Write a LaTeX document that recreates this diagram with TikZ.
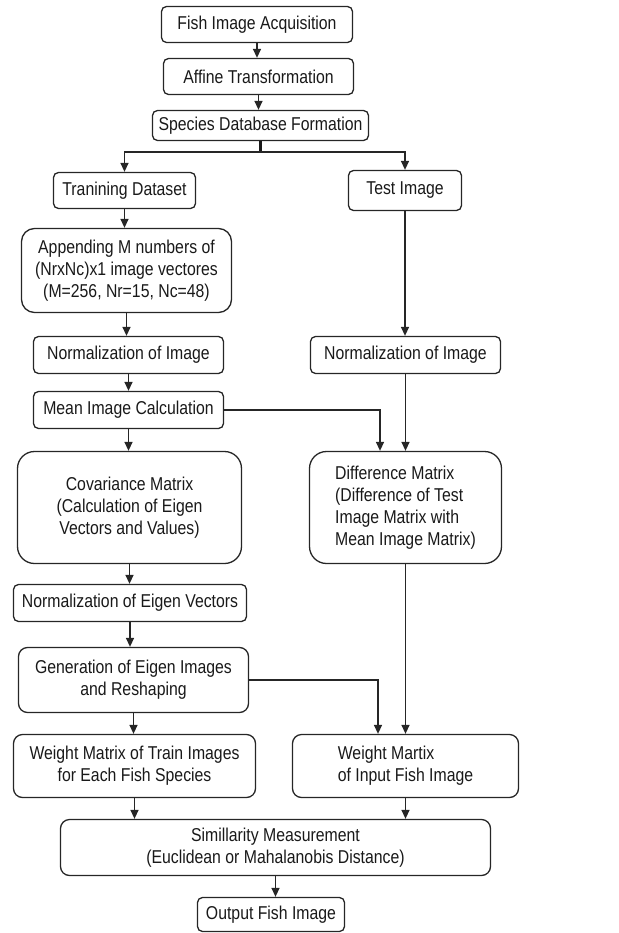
\documentclass[tikz,border=0pt]{standalone}
\usepackage{fontspec}
\setmainfont{Liberation Sans}[FakeStretch=0.85]
\usepackage{tikz}
\usetikzlibrary{arrows.meta}

\begin{document}
\begin{tikzpicture}[x=1pt, y=-1pt,
    stage/.style={rectangle, rounded corners=5pt, draw=black!85, line width=1.3pt,
        inner sep=0pt, align=center, text=black!90,
        font=\fontsize{18.6}{22}\selectfont},
    arr/.style={-{Triangle[length=9pt, width=8pt]}, line width=1.4pt, black!85},
    fork/.style={line width=2.6pt, black!90},
]
\useasboundingbox (0,0) rectangle (618,933);

% Acquisition chain
\node[stage, minimum width=191pt, minimum height=36pt] (fia) at (257,24.5) {Fish Image Acquisition};
\node[stage, minimum width=190pt, minimum height=36pt] (aft) at (258.5,76.5) {Affine Transformation};
\node[stage, minimum width=216pt, minimum height=30pt] (sdf) at (260.5,125.5) {Species Database Formation};

% Training branch
\node[stage, minimum width=142pt, minimum height=36pt] (trn) at (124.5,190.5) {Tranining Dataset};
\node[stage, rounded corners=13pt, minimum width=210pt, minimum height=84pt] (app) at (126.5,270.5)
    {Appending M numbers of\\(NrxNc)x1 image vectores\\(M=256, Nr=15, Nc=48)};
\node[stage, minimum width=190pt, minimum height=37pt] (nrl) at (128.5,355) {Normalization of Image};
\node[stage, minimum width=190pt, minimum height=37pt] (mic) at (128.5,410) {Mean Image Calculation};
\node[stage, rounded corners=17pt, minimum width=224pt, minimum height=112pt] (cov) at (129.5,507.5)
    {Covariance Matrix\\(Calculation of Eigen\\Vectors and Values)};
\node[stage, minimum width=233pt, minimum height=37pt] (nev) at (130,603) {Normalization of Eigen Vectors};
\node[stage, rounded corners=9pt, minimum width=230pt, minimum height=65pt] (gen) at (133.5,680)
    {Generation of Eigen Images\\and Reshaping};
\node[stage, rounded corners=9pt, minimum width=242pt, minimum height=63pt] (wml) at (134.5,766)
    {Weight Matrix of Train Images\\for Each Fish Species};

% Test branch
\node[stage, minimum width=113pt, minimum height=40pt] (tst) at (405,190.5) {Test Image};
\node[stage, minimum width=190pt, minimum height=37pt] (nrr) at (405.5,355) {Normalization of Image};
\node[stage, rounded corners=17pt, align=left, minimum width=192pt, minimum height=112pt] (dif) at (405.5,507.5)
    {Difference Matrix\\(Difference of Test\\Image Matrix with\\Mean Image Matrix)};
\node[stage, rounded corners=9pt, align=left, minimum width=226pt, minimum height=63pt] (wmr) at (405.5,766)
    {Weight Martix\\of Input Fish Image};

% Matching
\node[stage, rounded corners=9pt, minimum width=430pt, minimum height=56pt] (sim) at (275.5,847.5)
    {Simillarity Measurement\\(Euclidean or Mahalanobis Distance)};
\node[stage, minimum width=147pt, minimum height=34pt] (out) at (271,914.5) {Output Fish Image};

% Top arrows and fork
\draw[arr] (fia) -- (fia |- aft.north);
\draw[arr] (aft) -- (aft |- sdf.north);
\coordinate (split) at (260.5,152);
\draw[fork] (sdf) -- (split);
\draw[fork, arr] (split) -| (trn);
\draw[fork, arr] (split) -| (tst);

% Left column arrows
\draw[arr] (trn) -- (trn |- app.north);
\draw[arr] (app) -- (app |- nrl.north);
\draw[arr] (nrl) -- (nrl |- mic.north);
\draw[arr] (mic) -- (mic |- cov.north);
\draw[arr] (cov) -- (cov |- nev.north);
\draw[arr] (nev) -- (nev |- gen.north);
\draw[arr] (gen) -- (gen |- wml.north);
\draw[arr] (wml) -- (wml |- sim.north);

% Right column arrows
\draw[arr] (tst) -- (tst |- nrr.north);
\draw[arr] (nrr) -- (nrr |- dif.north);
\draw[arr] (dif) -- (dif |- wmr.north);
\draw[arr] (wmr) -- (wmr |- sim.north);

% Cross links
\draw[arr] (mic) -| ([xshift=-25.5pt]dif.north);
\draw[arr] (gen) -| ([xshift=-27.5pt]wmr.north);
\draw[arr] (sim) -- (sim |- out.north);
\end{tikzpicture}
\end{document}
